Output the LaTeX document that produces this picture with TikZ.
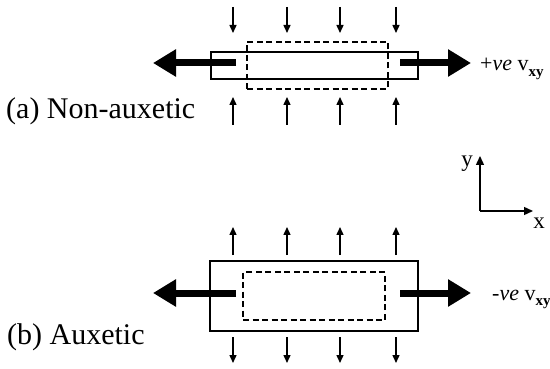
\documentclass[tikz,border=0pt]{standalone}
\usepackage{fontspec}
\setmainfont{Liberation Serif}
\usetikzlibrary{arrows.meta}
\tikzset{
  plate/.style={draw, line width=1.3pt, inner sep=0pt, outer sep=0pt},
  ghost/.style={draw, line width=1.2pt, dash pattern=on 6pt off 3.5pt, inner sep=0pt, outer sep=0pt},
  load/.style={line width=1.4pt, -{Triangle[length=8pt,width=7pt]}},
  pull/.style={line width=7pt, -{Triangle[length=23pt,width=26pt]}},
  axis/.style={line width=1.4pt, -{Triangle[length=9pt,width=8pt]}},
  caption/.style={anchor=base west, inner sep=0pt, font=\fontsize{30}{32}\selectfont},
  ratio/.style={anchor=base west, inner sep=0pt, font=\fontsize{22}{24}\selectfont},
  axlabel/.style={inner sep=0pt, font=\fontsize{23}{26}\selectfont}
}
\newcommand{\poisson}[1]{#1\textit{ve} v\raisebox{-0.25em}{\fontsize{15}{16}\selectfont\textbf{xy}}}
\begin{document}
\begin{tikzpicture}[x=1pt,y=-1pt]
\useasboundingbox (0,0) rectangle (550,369);

% (a) non-auxetic: plate stretched along x, contracting along y
\node[plate, minimum width=207pt, minimum height=27pt] (pa) at (314.5,65.5) {};
\node[ghost, minimum width=141pt, minimum height=47pt] (ga) at (317.5,65.5) {};
\foreach \x [count=\i] in {233,287,340,396} {
  \coordinate (at\i) at (\x,7);
  \coordinate (ah\i) at (\x,33);
  \coordinate (ab\i) at (\x,125);
  \coordinate (ak\i) at (\x,97);
  \draw[load] (at\i) -- (ah\i);
  \draw[load] (ab\i) -- (ak\i);
}
\coordinate (aL0) at (236,63);
\coordinate (aL1) at (153,63);
\coordinate (aR0) at (400,63);
\coordinate (aR1) at (471,63);
\draw[pull] (aL0) -- (aL1);
\draw[pull] (aR0) -- (aR1);
\node[ratio] (na) at (480,71) {\poisson{+}};
\node[caption] (ca) at (6,119) {(a) Non-auxetic};

% axes
\coordinate (o) at (480,211);
\coordinate (oy) at (480,156);
\coordinate (ox) at (533,211);
\draw[axis] (o) -- (oy);
\draw[axis] (o) -- (ox);
\node[axlabel] (ly) at (467,164) {y};
\node[axlabel] (lx) at (539,223) {x};

% (b) auxetic: plate stretched along x, expanding along y
\node[plate, minimum width=208pt, minimum height=70pt] (pb) at (314,296) {};
\node[ghost, minimum width=142pt, minimum height=48pt] (gb) at (314,296) {};
\foreach \x [count=\i] in {233,287,340,396} {
  \coordinate (bt\i) at (\x,255);
  \coordinate (bh\i) at (\x,227);
  \coordinate (bb\i) at (\x,337);
  \coordinate (bk\i) at (\x,363);
  \draw[load] (bt\i) -- (bh\i);
  \draw[load] (bb\i) -- (bk\i);
}
\coordinate (bL0) at (236,293);
\coordinate (bL1) at (153,293);
\coordinate (bR0) at (400,293);
\coordinate (bR1) at (471,293);
\draw[pull] (bL0) -- (bL1);
\draw[pull] (bR0) -- (bR1);
\node[ratio] (nb) at (492,300) {\poisson{-}};
\node[caption] (cb) at (7,344) {(b) Auxetic};
\end{tikzpicture}
\end{document}
